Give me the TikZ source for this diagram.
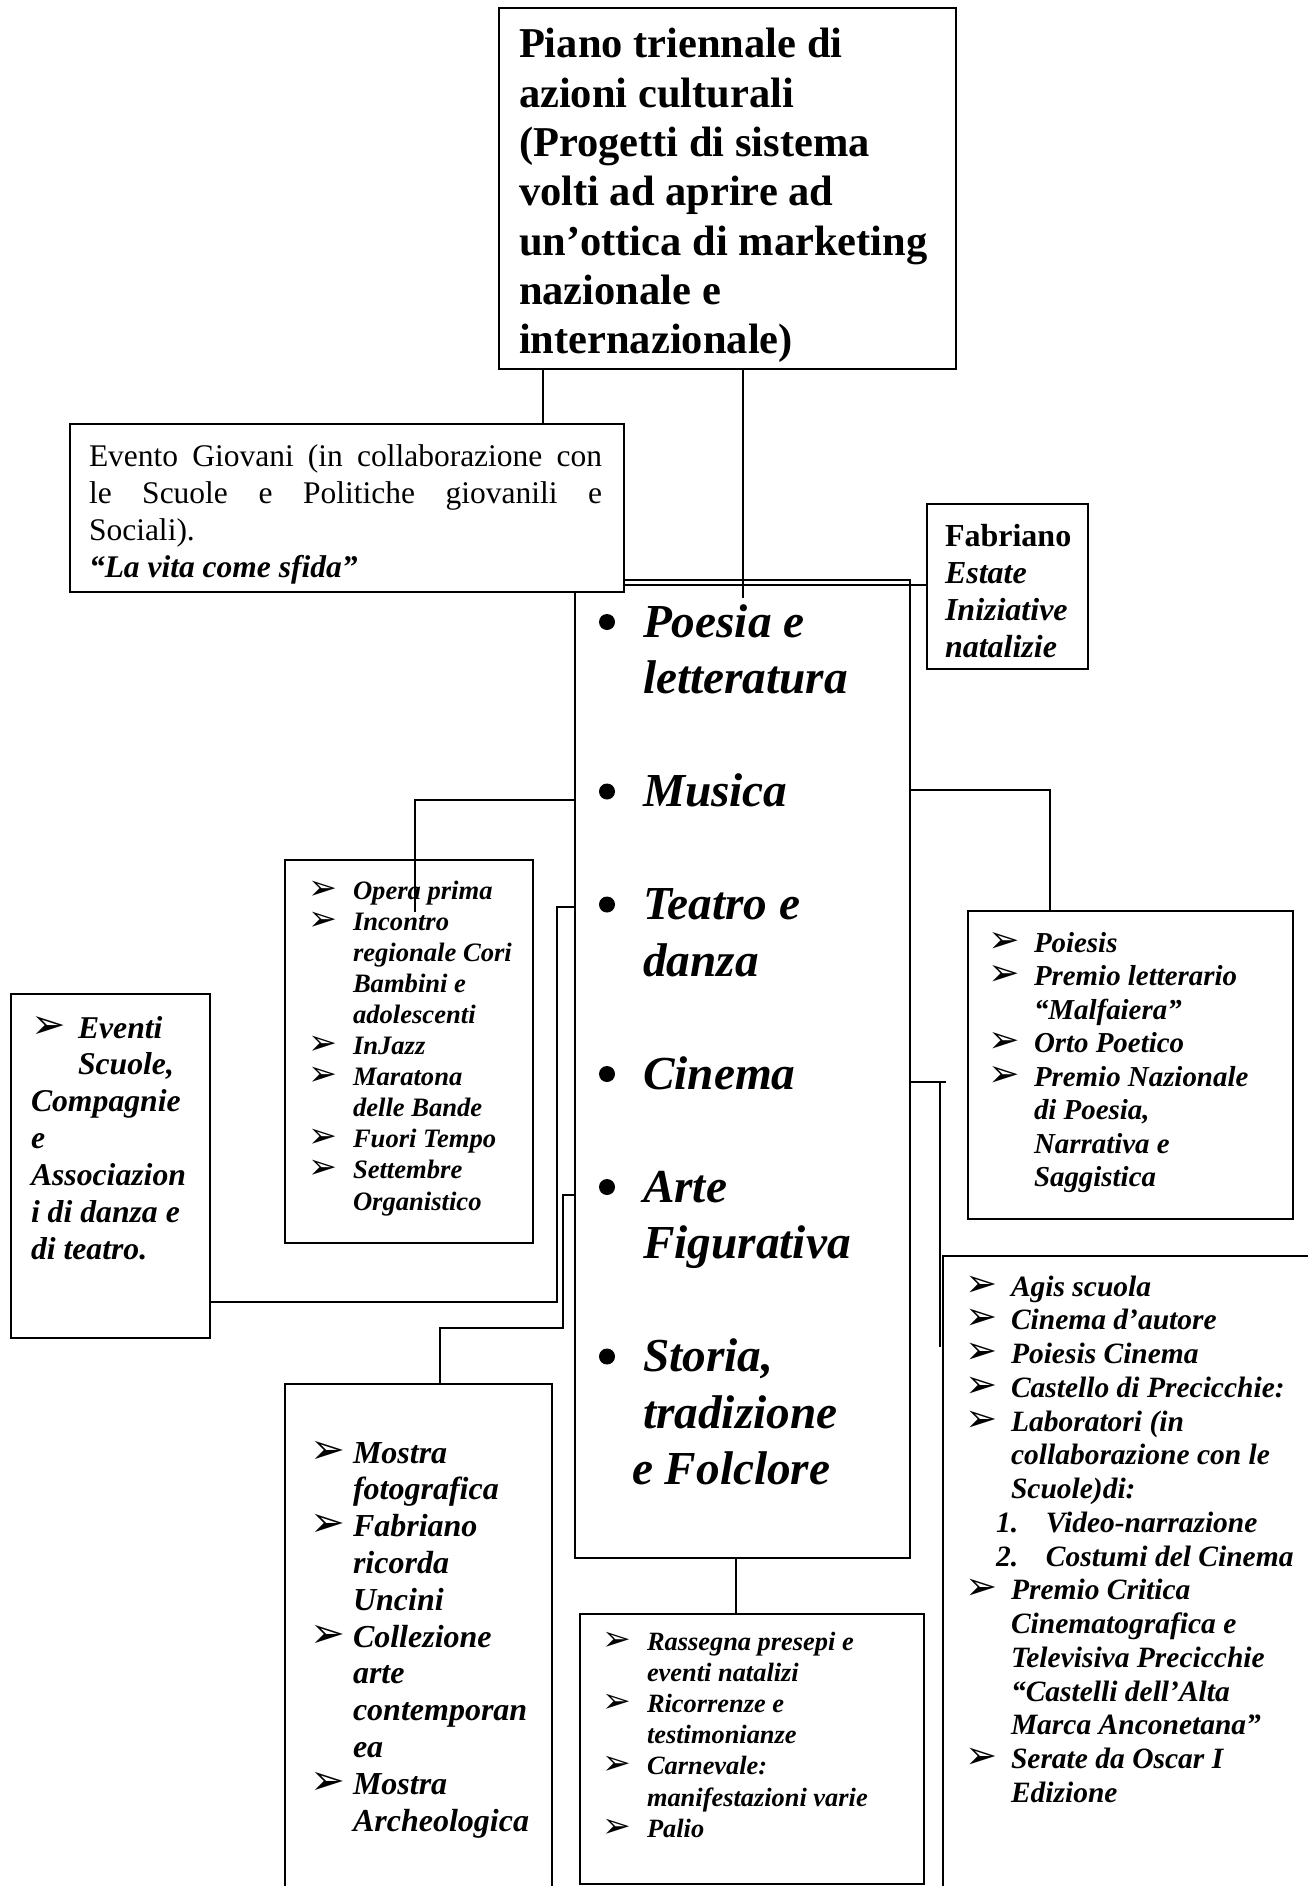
\documentclass[tikz,border=0pt]{standalone}
\usepackage{fontspec}
\setmainfont{Liberation Serif}
\newfontfamily\dingfont{DejaVu Sans}
\usetikzlibrary{calc}

\newlength{\arrw}
\newcommand{\fsz}[2]{\fontsize{#1pt}{#2pt}\selectfont}
\newcommand{\arrowmark}{\scalebox{1.3}{\dingfont\mdseries\upshape ➢}}
% list line with an arrow bullet, and a continuation line
\newcommand{\ai}[1]{\makebox[\arrw][l]{\arrowmark}#1\par}
\newcommand{\ci}[1]{\hspace*{\arrw}#1\par}

\begin{document}
\begin{tikzpicture}[x=1pt,y=-1pt,
  box/.style={draw=black, line width=1.7pt, fill=white, rectangle,
    inner sep=0pt, outer sep=0pt, anchor=north west},
  link/.style={draw=black, line width=1.6pt},
  txt/.style={anchor=base west, inner sep=0pt, outer sep=0pt, text=black},
  bul/.style={circle, fill=black, minimum size=16pt, inner sep=0pt}]

\fill[white] (0,0) rectangle (1307,1886);
\useasboundingbox (0,0) rectangle (1307,1886);

% ---------- boxes ----------
\node[box, minimum width=335pt, minimum height=978pt] (central) at (575,580) {};
\node[box, minimum width=457pt, minimum height=361pt] (top) at (499,8) {};
\node[box, minimum width=554pt, minimum height=168pt] (evento) at (70,424) {};
\node[box, minimum width=161pt, minimum height=165pt] (fabri) at (927,504) {};
\node[box, minimum width=248pt, minimum height=383pt] (opera) at (285,860) {};
\node[box, minimum width=325pt, minimum height=308pt] (poiesis) at (968,911) {};
\node[box, minimum width=199pt, minimum height=344pt] (eventi) at (11,994) {};
\node[box, minimum width=267pt, minimum height=600pt] (mostra) at (285,1384) {};
\node[box, minimum width=344pt, minimum height=270pt] (rassegna) at (580,1614) {};
\node[box, minimum width=450pt, minimum height=700pt] (agis) at (943,1256) {};

% ---------- connector bends ----------
\coordinate (kG) at (543,0);
\coordinate (kTop) at (743,598);
\coordinate (kF) at (0,585);
\coordinate (kP) at (1050,790);
\coordinate (kO) at (415,800);
\coordinate (kOend) at (415,912);
\coordinate (kT1) at (557,907);
\coordinate (kT2) at (557,1302);
\coordinate (kA1) at (563,1195);
\coordinate (kA2) at (563,1328);
\coordinate (kA3) at (440,1328);
\coordinate (kC1) at (946,1082);
\coordinate (kC2) at (940,1082);
\coordinate (kC3) at (940,1347);
\coordinate (kS) at (736,0);

% ---------- connectors ----------
\draw[link] (top.south -| kG) -- (evento.north -| kG);
\draw[link] (top.south -| kTop) -- (kTop);
\draw[link] (evento.east |- kF) -- (fabri.west |- kF);
\draw[link] (central.east |- kP) -- (kP) -- (poiesis.north -| kP);
\draw[link] (central.west |- kO) -- (kO) -- (kOend);
\draw[link] (central.west |- kT1) -- (kT1) -- (kT2) -- (eventi.east |- kT2);
\draw[link] (central.west |- kA1) -- (kA1) -- (kA2) -- (kA3) -- (mostra.north -| kA3);
\draw[link] (central.east |- kC1) -- (kC1);
\draw[link] (kC2) -- (kC3);
\draw[link] (central.south -| kS) -- (rassegna.north -| kS);

% ---------- title ----------
\node[txt] (title) at (519,58) {\parbox[t]{430pt}{\fsz{42.5}{49.3}\bfseries
  Piano triennale di\par azioni culturali\par (Progetti di sistema\par
  volti ad aprire ad\par un’ottica di marketing\par nazionale e\par internazionale)}};

% ---------- youth event ----------
\node[txt] (evento-t) at (89,466) {\parbox[t]{513pt}{\fsz{31.5}{37}
  \makebox[513pt][s]{Evento Giovani (in collaborazione con}\par
  \makebox[513pt][s]{le Scuole e Politiche giovanili e}\par
  Sociali).\par
  {\bfseries\itshape “La vita come sfida”}}};

% ---------- Fabriano ----------
\node[txt] (fabri-t) at (945,546) {\parbox[t]{150pt}{\fsz{32}{37}
  \textbf{Fabriano}\par
  {\bfseries\itshape Estate\par Iniziative\par natalizie}}};

% ---------- central list ----------
\begin{scope}[every node/.append style={font=\fsz{47.3}{56.5}\bfseries\itshape}]
\node[bul] (b1) at (607,622) {};
\node[bul] (b2) at (607,791.5) {};
\node[bul] (b3) at (607,904.5) {};
\node[bul] (b4) at (607,1074) {};
\node[bul] (b5) at (607,1187) {};
\node[bul] (b6) at (607,1356.5) {};
\node[txt] (c1) at (643,637) {\parbox[t]{260pt}{Poesia e\par letteratura}};
\node[txt] (c2) at (643,806.5) {Musica};
\node[txt] (c3) at (643,919.5) {\parbox[t]{260pt}{Teatro e\par danza}};
\node[txt] (c4) at (643,1089) {Cinema};
\node[txt] (c5) at (643,1202) {\parbox[t]{260pt}{Arte\par Figurativa}};
\node[txt] (c6) at (643,1371.5) {\parbox[t]{260pt}{Storia,\par tradizione\par
  \hspace*{-11pt}e Folclore}};
\end{scope}

% ---------- music ----------
\node[txt] (opera-t) at (308,899) {\parbox[t]{230pt}{\fsz{26.6}{31.1}\bfseries\itshape
  \setlength{\arrw}{45pt}%
  \ai{Opera prima}\ai{Incontro}\ci{regionale Cori}\ci{Bambini e}\ci{adolescenti}%
  \ai{InJazz}\ai{Maratona}\ci{delle Bande}\ai{Fuori Tempo}\ai{Settembre}\ci{Organistico}}};

% ---------- poetry ----------
\node[txt] (poiesis-t) at (988,952) {\parbox[t]{300pt}{\fsz{28.9}{33.5}\bfseries\itshape
  \setlength{\arrw}{46pt}%
  \ai{Poiesis}\ai{Premio letterario}\ci{“Malfaiera”}\ai{Orto Poetico}%
  \ai{Premio Nazionale}\ci{di Poesia,}\ci{Narrativa e}\ci{Saggistica}}};

% ---------- theatre and dance ----------
\node[txt] (eventi-t) at (31,1038) {\parbox[t]{190pt}{\fsz{31.7}{36.9}\bfseries\itshape
  \setlength{\arrw}{47pt}%
  \ai{Eventi}\ci{Scuole,}Compagnie\par e\par Associazion\par i di danza e\par di teatro.}};

% ---------- figurative art ----------
\node[txt] (mostra-t) at (310,1463) {\parbox[t]{250pt}{\fsz{32}{36.8}\bfseries\itshape
  \setlength{\arrw}{43pt}%
  \ai{Mostra}\ci{fotografica}\ai{Fabriano}\ci{ricorda}\ci{Uncini}%
  \ai{Collezione}\ci{arte}\ci{contemporan}\ci{ea}\ai{Mostra}\ci{Archeologica}}};

% ---------- history and folklore ----------
\node[txt] (rassegna-t) at (602,1650) {\parbox[t]{320pt}{\fsz{26.4}{31.2}\bfseries\itshape
  \setlength{\arrw}{45pt}%
  \ai{Rassegna presepi e}\ci{eventi natalizi}\ai{Ricorrenze e}\ci{testimonianze}%
  \ai{Carnevale:}\ci{manifestazioni varie}\ai{Palio}}};

% ---------- cinema ----------
\node[txt] (agis-t) at (965,1296) {\parbox[t]{340pt}{\fsz{29.5}{33.75}\bfseries\itshape
  \setlength{\arrw}{46pt}%
  \ai{Agis scuola}\ai{Cinema d’autore}\ai{Poiesis Cinema}\ai{Castello di Precicchie:}%
  \ai{Laboratori (in}\ci{collaborazione con le}\ci{Scuole)di:}%
  \hspace*{31pt}\makebox[50pt][l]{1.}Video-narrazione\par
  \hspace*{31pt}\makebox[50pt][l]{2.}Costumi del Cinema\par
  \ai{Premio Critica}\ci{Cinematografica e}\ci{Televisiva Precicchie}%
  \ci{“Castelli dell’Alta}\ci{Marca Anconetana”}\ai{Serate da Oscar I}\ci{Edizione}}};

\end{tikzpicture}
\end{document}
